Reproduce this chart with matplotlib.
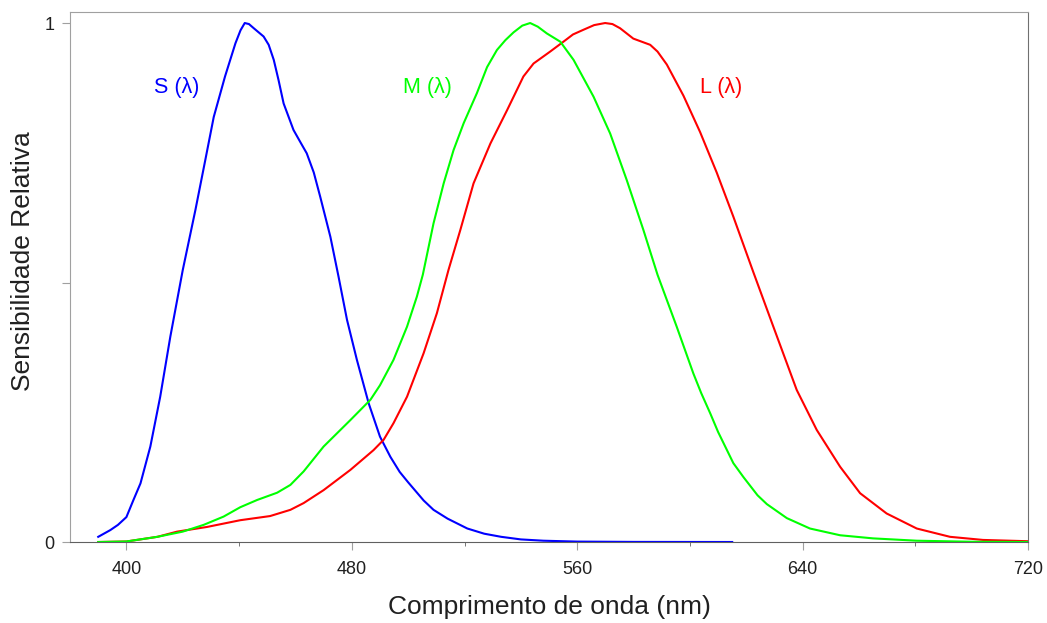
import matplotlib
matplotlib.use("Agg")
import matplotlib.pyplot as plt
from matplotlib.ticker import MultipleLocator

# relative cone sensitivities (wavelength nm, value)
s_nm = [390, 394.3, 397, 400, 402.5, 405, 408.5, 412, 415.6, 420, 424.5, 428, 431,
        435, 438.7, 440.5, 442, 443.5, 445.2, 448.7, 450.5, 452.3, 454, 455.8, 459.3, 462,
        464, 466.5, 468.8, 472.4, 475.3, 478.3, 481.8, 486, 490, 493.7, 497, 500, 505.5,
        509, 514, 521, 527, 533, 540, 548, 560, 580, 615]
s_val = [0.010, 0.023, 0.033, 0.048, 0.081, 0.113, 0.184, 0.280, 0.396, 0.524,
         0.640, 0.736, 0.819, 0.897, 0.961, 0.986, 1.0, 0.998, 0.990, 0.974, 0.958, 0.929,
         0.890, 0.845, 0.794, 0.768, 0.749, 0.712, 0.665, 0.588, 0.511, 0.428, 0.351, 0.267,
         0.203, 0.164, 0.135, 0.115, 0.080, 0.062, 0.045, 0.026, 0.016, 0.010, 0.005, 0.0025,
         0.0008, 0.0002, 0.0]

m_nm = [390, 400, 411, 420, 427.4, 434.5, 440.4, 446.4, 453.5, 458.2, 462.9, 470, 479.5,
        486.6, 490, 494.8, 499.6, 503.1, 505.2, 509, 512.6, 516.1, 519.7, 524.4, 528,
        531.5, 534.5, 537.4, 540.5, 543.3, 546, 549.2, 554, 558.7, 565.8, 571.7, 577.6,
        583.5, 588.5, 595.3, 601.2, 604, 607.2, 610, 615.4, 619, 624, 627.3, 634.4, 642.6,
        653.3, 665, 680.5, 700, 720]
m_val = [0.0, 0.001, 0.010, 0.020, 0.033, 0.049, 0.067, 0.081, 0.095, 0.110, 0.136, 0.184,
         0.235, 0.274, 0.302, 0.351, 0.415, 0.473, 0.515, 0.614, 0.691, 0.755, 0.807, 0.865,
         0.915, 0.948, 0.967, 0.982, 0.995, 1.0, 0.993, 0.980, 0.964, 0.929, 0.858, 0.787,
         0.697, 0.601, 0.515, 0.415, 0.325, 0.287, 0.248, 0.212, 0.152, 0.125, 0.090, 0.073,
         0.046, 0.026, 0.013, 0.007, 0.0025, 0.0005, 0.0]

l_nm = [390, 400, 411, 418, 428.6, 440.4, 451, 458.2, 462.9, 470, 479.5, 487.7, 491.3,
        494.8, 499.6, 505.5, 510.2, 514.3, 518.5, 523.2, 529.2, 535.1, 540.9, 544.5,
        550.4, 555.1, 558.5, 562.2, 566, 569.9, 572.5, 575.2, 579.9, 585.9, 588.5, 591.8,
        597.7, 603.6, 609.5, 615.4, 622.5, 629.6, 637.9, 645, 653.3, 660.4, 669.8, 680.5,
        692.3, 704, 720]
l_val = [0.0, 0.001, 0.010, 0.020, 0.029, 0.042, 0.050, 0.062, 0.075, 0.100, 0.139, 0.177,
         0.197, 0.229, 0.280, 0.364, 0.441, 0.524, 0.601, 0.691, 0.768, 0.832, 0.897,
         0.922, 0.945, 0.964, 0.978, 0.987, 0.996, 1.0, 0.998, 0.990, 0.970, 0.958, 0.945,
         0.920, 0.860, 0.790, 0.712, 0.627, 0.520, 0.415, 0.293, 0.216, 0.145, 0.094, 0.055,
         0.026, 0.010, 0.004, 0.0015]

curve_labels = ["S (λ)", "M (λ)", "L (λ)"]
label_nm = [417.7, 507, 611]

plt.rcParams['font.family'] = ["Liberation Sans", "DejaVu Sans"]

fig = plt.figure(figsize=(10.47, 6.23), dpi=100)
ax = fig.add_axes([0.0669, 0.130, 0.915, 0.8507])

ax.plot(s_nm, s_val, color="#0000ff", lw=1.5)
ax.plot(l_nm, l_val, color="#ff0000", lw=1.5)
ax.plot(m_nm, m_val, color="#00ff00", lw=1.5)

colors = ["#0000ff", "#00ff00", "#ff0000"]
for txt, x, c in zip(curve_labels, label_nm, colors):
    ax.text(x, 0.875, txt, color=c, fontsize=15.5, ha="center", va="center")

ax.set_xlim(380, 720)
ax.set_ylim(0, 1.0212)
ax.xaxis.set_major_locator(MultipleLocator(80))
ax.xaxis.set_minor_locator(MultipleLocator(40))
ax.set_yticks([0, 0.5, 1])
ax.set_yticklabels(["0", "", "1"])

for side in ["left", "top"]:
    ax.spines[side].set_color("#a0a0a0")
ax.spines["bottom"].set_color("#606060")
ax.spines["right"].set_color("#707070")
ax.tick_params(axis="both", which="major", length=6, color="#a0a0a0",
               labelsize=13, labelcolor="#202020", pad=5)
ax.tick_params(axis="x", which="major", pad=8)
ax.tick_params(axis="x", which="minor", length=3, color="#606060")

ax.set_xlabel("Comprimento de onda (nm)", fontsize=19, color="#202020")
ax.set_ylabel("Sensibilidade Relativa", fontsize=19, color="#202020")
ax.xaxis.label.set_va("center")
ax.yaxis.label.set_va("center")
ax.xaxis.set_label_coords(0.5, -0.1226)
ax.yaxis.set_label_coords(-0.049, 0.530)

fig.savefig("out.png", dpi=100)
